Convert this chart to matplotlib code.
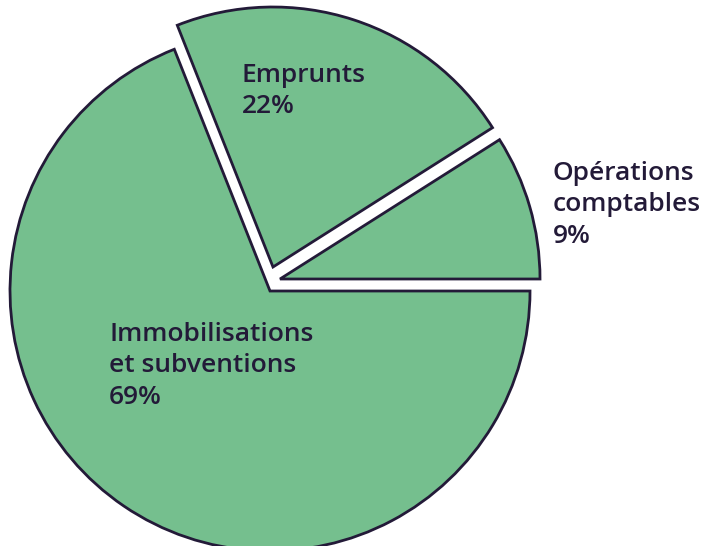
import matplotlib.pyplot as plt

# data
labels = ['Opérations\ncomptables', 'Emprunts', 'Immobilisations\net subventions']
shares = [9, 22, 69]

green = '#75bf8e'
ink = '#231a38'

W, H = 709, 546
fig = plt.figure(figsize=(W / 100, H / 100), dpi=100)
ax = fig.add_axes([0, 0, 1, 1])

cx, cy, r = 270, H - 291, 260
wedges, _ = ax.pie(shares, startangle=0, counterclock=True, center=(cx, cy),
                   radius=r, colors=[green] * 3, frame=True,
                   wedgeprops=dict(edgecolor=ink, linewidth=2))
ax.set_xlim(0, W)
ax.set_ylim(0, H)
ax.set_aspect('equal')
ax.axis('off')

# pulled-out slices (offsets in pixels)
offsets = [(10, 12), (3, 24), (0, 0)]
for w, (dx, dy) in zip(wedges, offsets):
    w.set_center((cx + dx, cy + dy))

# labels: top-left pixel position of each text block
label_pos = [(553, 161), (242, 63), (109, 322)]
for lab, s, (x, y) in zip(labels, shares, label_pos):
    ax.text(x, H - y, f'{lab}\n{s}%', ha='left', va='top', fontsize=19,
            color=ink, family='Open Sans', fontweight='semibold',
            linespacing=1.33)

fig.savefig('out.png', dpi=100)
